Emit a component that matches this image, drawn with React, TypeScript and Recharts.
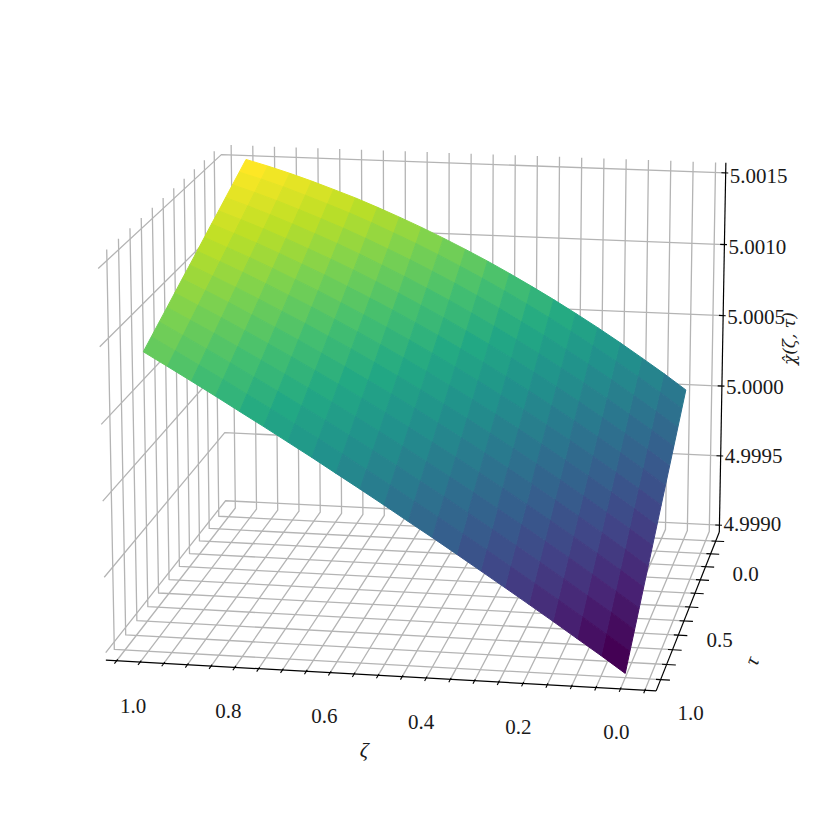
import React from 'react';
import { ScatterChart, Scatter, XAxis, YAxis } from 'recharts';

// ---- data ----
const zetaValues = [0, 0.05, 0.1, 0.15, 0.2, 0.25, 0.3, 0.35, 0.4, 0.45, 0.5, 0.55, 0.6, 0.65, 0.7, 0.75, 0.8, 0.85, 0.9, 0.95, 1];
const tauValues = [0, 1 / 14, 2 / 14, 3 / 14, 4 / 14, 5 / 14, 6 / 14, 7 / 14, 8 / 14, 9 / 14, 10 / 14, 11 / 14, 12 / 14, 13 / 14, 1];
// (chi - 5) * 1e5, one row per zeta value, one column per tau value
const chiExcess = [
  [2, -5.4, -12.9, -20.3, -27.8, -35.2, -42.6, -50.1, -57.5, -65, -72.4, -79.8, -87.3, -94.7, -102.2],
  [12.9, 5.4, -2, -9.5, -16.9, -24.4, -31.8, -39.3, -46.7, -54.2, -61.6, -69.1, -76.5, -84, -91.4],
  [23.3, 15.9, 8.4, 1, -6.5, -13.9, -21.4, -28.8, -36.3, -43.7, -51.2, -58.6, -66.1, -73.5, -81],
  [33.5, 26, 18.6, 11.2, 3.7, -3.7, -11.1, -18.5, -26, -33.4, -40.8, -48.2, -55.7, -63.1, -70.5],
  [43.3, 35.9, 28.5, 21.1, 13.7, 6.3, -1.1, -8.5, -15.9, -23.3, -30.7, -38.1, -45.5, -52.9, -60.2],
  [52.7, 45.3, 38, 30.6, 23.3, 16, 8.6, 1.3, -6, -13.4, -20.7, -28, -35.4, -42.7, -50],
  [61.8, 54.5, 47.3, 40, 32.7, 25.5, 18.2, 11, 3.7, -3.6, -10.8, -18.1, -25.4, -32.6, -39.9],
  [70.5, 63.3, 56.1, 49, 41.8, 34.6, 27.5, 20.3, 13.2, 6, -1.2, -8.3, -15.5, -22.7, -29.8],
  [78.9, 71.8, 64.8, 57.7, 50.7, 43.6, 36.6, 29.5, 22.5, 15.4, 8.4, 1.3, -5.7, -12.8, -19.8],
  [87, 80, 73.1, 66.2, 59.2, 52.3, 45.4, 38.4, 31.5, 24.6, 17.6, 10.7, 3.8, -3.2, -10.1],
  [94.6, 87.8, 81.1, 74.3, 67.5, 60.8, 54, 47.2, 40.4, 33.7, 26.9, 20.1, 13.4, 6.6, -0.2],
  [101.9, 95.3, 88.7, 82.1, 75.5, 68.9, 62.3, 55.7, 49.1, 42.5, 35.9, 29.3, 22.7, 16.1, 9.5],
  [108.9, 102.5, 96.1, 89.6, 83.2, 76.8, 70.4, 64, 57.6, 51.1, 44.7, 38.3, 31.9, 25.5, 19],
  [115.5, 109.2, 103, 96.8, 90.6, 84.4, 78.2, 72, 65.8, 59.6, 53.4, 47.2, 41, 34.8, 28.6],
  [121.8, 115.8, 109.8, 103.8, 97.8, 91.8, 85.8, 79.8, 73.8, 67.8, 61.8, 55.8, 49.8, 43.9, 37.9],
  [127.8, 122, 116.2, 110.5, 104.7, 99, 93.2, 87.5, 81.7, 76, 70.2, 64.4, 58.7, 52.9, 47.2],
  [133.2, 127.7, 122.2, 116.7, 111.2, 105.7, 100.2, 94.7, 89.2, 83.8, 78.3, 72.8, 67.3, 61.8, 56.3],
  [138.5, 133.2, 128, 122.8, 117.6, 112.4, 107.2, 102, 96.7, 91.5, 86.3, 81.1, 75.9, 70.7, 65.5],
  [143.4, 138.5, 133.6, 128.6, 123.7, 118.8, 113.9, 109, 104, 99.1, 94.2, 89.3, 84.3, 79.4, 74.5],
  [147.9, 143.3, 138.7, 134.1, 129.4, 124.8, 120.2, 115.6, 111, 106.4, 101.8, 97.2, 92.6, 88, 83.4],
  [152, 147.7, 143.5, 139.2, 134.9, 130.7, 126.4, 122.1, 117.8, 113.6, 109.3, 105, 100.8, 96.5, 92.2],
];
const zetaTicks = [-0.05, 0, 0.05, 0.1, 0.15, 0.2, 0.25, 0.3, 0.35, 0.4, 0.45, 0.5, 0.55, 0.6, 0.65, 0.7, 0.75, 0.8, 0.85, 0.9, 0.95, 1, 1.05];
const tauTicks = [0, 0.1, 0.2, 0.3, 0.4, 0.5, 0.6, 0.7, 0.8, 0.9, 1];
const chiTicks = [4.999, 4.9995, 5, 5.0005, 5.001, 5.0015];
const zetaLabels = [0, 0.2, 0.4, 0.6, 0.8, 1];
const tauLabels = [0, 0.5, 1];

// ---- 3D view ----
const ZETA_LIM = [-0.0729, 1.0729];
const TAU_LIM = [-0.0729, 1.0729];
const CHI_LIM = [4.99895, 5.00157];
const BOX = [1.19, 1.19, 0.893];
const ELEV = (15 * Math.PI) / 180;
const AZIM = (100 * Math.PI) / 180;
const DIST = 10;
const SE = Math.sin(ELEV), CE = Math.cos(ELEV), SA = Math.sin(AZIM), CA = Math.cos(AZIM);
const U = [-SA, CA, 0];
const V = [-SE * CA, -SE * SA, CE];
const W = [CE * CA, CE * SA, SE];
const dot = (a: number[], b: number[]) => a[0] * b[0] + a[1] * b[1] + a[2] * b[2];

function project(zeta: number, tau: number, chi: number) {
  const q = [
    ((zeta - ZETA_LIM[0]) / (ZETA_LIM[1] - ZETA_LIM[0]) - 0.5) * BOX[0],
    ((tau - TAU_LIM[0]) / (TAU_LIM[1] - TAU_LIM[0]) - 0.5) * BOX[1],
    ((chi - CHI_LIM[0]) / (CHI_LIM[1] - CHI_LIM[0]) - 0.5) * BOX[2],
  ];
  const d = DIST - dot(W, q);
  return { x: dot(U, q) / d, y: dot(V, q) / d, d };
}

const [zMin, zMax] = ZETA_LIM;
const [tMin, tMax] = TAU_LIM;
const [cMin, cMax] = CHI_LIM;
const DZ = (zMax - zMin) / 12;
const DT = (tMax - tMin) / 12;

// gridlines: three-point polylines over the panes
const gridPoints = [
  ...zetaTicks.flatMap((v) => [project(v, tMax, cMin), project(v, tMin, cMin), project(v, tMin, cMax)]),
  ...tauTicks.flatMap((v) => [project(zMin, v, cMin), project(zMax, v, cMin), project(zMax, v, cMax)]),
  ...chiTicks.flatMap((v) => [project(zMin, tMin, v), project(zMax, tMin, v), project(zMax, tMax, v)]),
];

const axisLinePoints = [
  project(zMax, tMax, cMin), project(zMin, tMax, cMin),
  project(zMin, tMax, cMin), project(zMin, tMin, cMin),
  project(zMin, tMin, cMin), project(zMin, tMin, cMax),
];

const tickPoints = [
  ...zetaTicks.flatMap((v) => [project(v, tMax + 0.2 * DT, cMin), project(v, tMax - 0.1 * DT, cMin)]),
  ...tauTicks.flatMap((v) => [project(zMin - 0.2 * DZ, v, cMin), project(zMin + 0.1 * DZ, v, cMin)]),
  ...chiTicks.flatMap((v) => [project(zMin - 0.06 * DZ, tMin, v), project(zMin + 0.1 * DZ, tMin, v)]),
];

// viridis
const VIRIDIS = ['#440154', '#482475', '#414487', '#355f8d', '#2a788e', '#21918c', '#22a884', '#44bf70', '#7ad151', '#bddf26', '#fde725'];
function viridis(t: number) {
  const s = Math.max(0, Math.min(1, t)) * (VIRIDIS.length - 1);
  const i = Math.min(Math.floor(s), VIRIDIS.length - 2);
  const f = s - i;
  const p = (h: string, o: number) => parseInt(h.slice(o, o + 2), 16);
  const c = [1, 3, 5].map((o) => Math.round(p(VIRIDIS[i], o) * (1 - f) + p(VIRIDIS[i + 1], o) * f));
  return `rgb(${c[0]},${c[1]},${c[2]})`;
}

const chiAt = (i: number, j: number) => 5 + chiExcess[i][j] * 1e-5;

const rawCells = zetaValues.slice(0, -1).flatMap((_, i) =>
  tauValues.slice(0, -1).map((__, j) => {
    const corners: [number, number][] = [[i, j], [i + 1, j], [i + 1, j + 1], [i, j + 1]];
    const pts = corners.map(([a, b]) => project(zetaValues[a], tauValues[b], chiAt(a, b)));
    const avg = corners.reduce((s, [a, b]) => s + chiAt(a, b), 0) / 4;
    const depth = pts.reduce((s, p) => s + p.d, 0) / 4;
    return { pts, avg, depth };
  }),
);
const avgMin = Math.min(...rawCells.map((c) => c.avg));
const avgMax = Math.max(...rawCells.map((c) => c.avg));
const surfaceCells = [...rawCells].sort((a, b) => b.depth - a.depth);
const surfaceColors = surfaceCells.map((c) => viridis((c.avg - avgMin) / (avgMax - avgMin)));
const surfacePoints = surfaceCells.flatMap((c) => c.pts);

// labels
const FONT = '"Liberation Serif", serif';
const TITLE_FONT = '"DejaVu Serif", serif';
const fmt1 = (v: number) => v.toFixed(1);
const labelPoints = [
  ...zetaLabels.map((v) => ({ ...project(v, tMax, cMin), label: fmt1(v), dx: -4 - 3 * v, dy: 43.5, rot: 0 })),
  ...tauLabels.map((v) => ({ ...project(zMin, v, cMin), label: fmt1(v), dx: 30, dy: 33, rot: 0 })),
  ...chiTicks.map((v) => ({ ...project(zMin, tMin, v), label: v.toFixed(4), dx: 33, dy: -1 + ((v - 4.999) / 0.0025) * 4, rot: 0 })),
  { ...project(0.5, tMax, cMin), label: 'ζ', italic: true, dx: -14, dy: 75, rot: 3.3 },
  { ...project(zMin, 0.5, cMin), label: 'τ', italic: true, dx: 62, dy: 54, rot: -68.7 },
  { ...project(zMin, tMin, 5.0005), label: 'χ̂(ζ, τ)', italic: true, dx: 66, dy: 23, rot: -90, title: true },
];

const splitLines = (size: number, stroke: string, width: number) => (props: any) => {
  const pts: { x: number; y: number }[] = props.points || [];
  const out: React.ReactNode[] = [];
  for (let i = 0; i + size <= pts.length; i += size) {
    const s = pts.slice(i, i + size).map((p) => `${p.x},${p.y}`).join(' ');
    out.push(<polyline key={i} points={s} fill="none" stroke={stroke} strokeWidth={width} strokeLinejoin="round" />);
  }
  return <g>{out}</g>;
};

const renderSurface = (props: any) => {
  const pts: { x: number; y: number }[] = props.points || [];
  const out: React.ReactNode[] = [];
  for (let i = 0; i + 4 <= pts.length; i += 4) {
    const s = pts.slice(i, i + 4).map((p) => `${p.x},${p.y}`).join(' ');
    const col = surfaceColors[i / 4];
    out.push(<polygon key={i} points={s} fill={col} stroke={col} strokeWidth={1} strokeLinejoin="round" />);
  }
  return <g>{out}</g>;
};

const NoDot = () => <g />;

const LabelShape = (props: any) => {
  const e = props.payload || props;
  const x = props.cx + e.dx;
  const y = props.cy + e.dy;
  return (
    <text
      x={x}
      y={y}
      textAnchor="middle"
      dominantBaseline="central"
      fontFamily={e.title ? TITLE_FONT : FONT}
      fontSize={e.title ? 17 : 21}
      fontStyle={e.italic ? 'italic' : 'normal'}
      fill="#1a1a1a"
      transform={e.rot ? `rotate(${e.rot} ${x} ${y})` : undefined}
    >
      {e.label}
    </text>
  );
};

export default function App() {
  return (
    <div style={{ position: 'absolute', left: 0, top: 0 }}>
      <ScatterChart width={831} height={831} margin={{ top: 0, right: 0, bottom: 0, left: 0 }}>
        <XAxis type="number" dataKey="x" domain={[-0.095, 0.09]} hide />
        <YAxis type="number" dataKey="y" domain={[-0.0959, 0.0902]} hide />
        <Scatter data={gridPoints} shape={NoDot} line={splitLines(3, '#b4b4b4', 1.3)} isAnimationActive={false} />
        <Scatter data={axisLinePoints} shape={NoDot} line={splitLines(2, '#000', 1.2)} isAnimationActive={false} />
        <Scatter data={tickPoints} shape={NoDot} line={splitLines(2, '#000', 1.1)} isAnimationActive={false} />
        <Scatter data={surfacePoints} shape={NoDot} line={renderSurface} isAnimationActive={false} />
        <Scatter data={labelPoints} shape={LabelShape} isAnimationActive={false} />
      </ScatterChart>
    </div>
  );
}
